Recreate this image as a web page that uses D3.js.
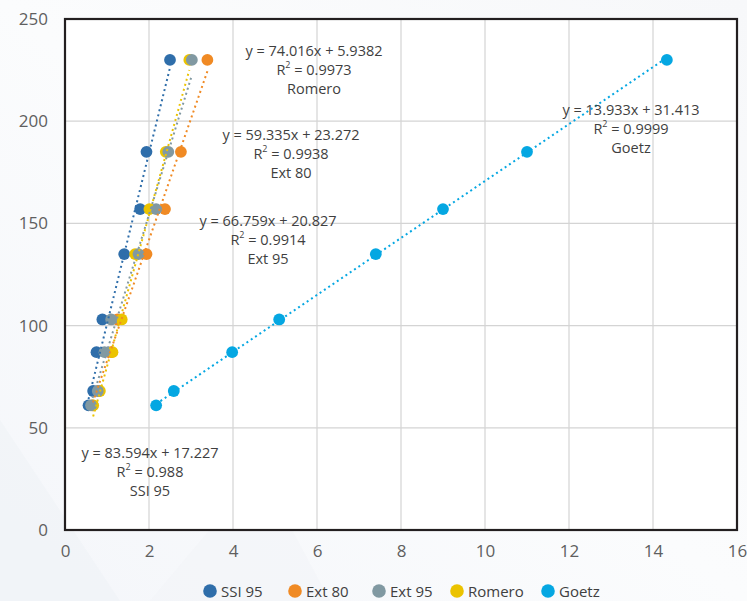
<!DOCTYPE html>
<html>
<head>
<meta charset="utf-8">
<script src="https://cdn.jsdelivr.net/npm/d3@7"></script>
<style>
  html, body { margin: 0; padding: 0; background: #ffffff; }
  svg { display: block; }
</style>
</head>
<body>
<svg id="chart" width="747" height="601"></svg>
<script>
// Measured load levels shared by every series (y axis)
const yValues = [61, 68, 87, 103, 135, 157, 185, 230];

// x readings per series, in the same order as yValues
const ssi95  = [0.56, 0.67, 0.75, 0.89, 1.41, 1.79, 1.94, 2.50];
const ext80  = [0.66, 0.80, 1.10, 1.25, 1.94, 2.38, 2.76, 3.39];
const ext95  = [0.62, 0.78, 0.94, 1.10, 1.75, 2.17, 2.46, 3.02];
const romero = [0.67, 0.83, 1.13, 1.35, 1.67, 2.01, 2.40, 2.96];
const goetz  = [2.17, 2.59, 3.98, 5.10, 7.40, 9.00, 11.00, 14.33];

const seriesNames = ["SSI 95", "Ext 80", "Ext 95", "Romero", "Goetz"];
const seriesColors = ["#2f6eaa", "#f08a24", "#8199a2", "#ebc300", "#05a7e2"];

// Linear trendline fits
const trendSlope     = [83.594, 59.335, 66.759, 74.016, 13.933];
const trendIntercept = [17.227, 23.272, 20.827, 5.9382, 31.413];
const trendR2        = ["0.988", "0.9938", "0.9914", "0.9973", "0.9999"];

const xTicks = [0, 2, 4, 6, 8, 10, 12, 14, 16];
const yTicks = [0, 50, 100, 150, 200, 250];

const seriesX = [ssi95, ext80, ext95, romero, goetz];
const series = seriesNames.map((name, i) => ({
  name,
  color: seriesColors[i],
  slope: trendSlope[i],
  intercept: trendIntercept[i],
  r2: trendR2[i],
  points: seriesX[i].map((x, j) => ({ x, y: yValues[j] }))
}));

const svg = d3.select("#chart");
const W = 747, H = 601;
const plot = { left: 65, right: 737, top: 19, bottom: 530 };

// soft page background
const defs = svg.append("defs");
const bg = defs.append("linearGradient").attr("id", "bg")
  .attr("x1", "0").attr("y1", "1").attr("x2", "1").attr("y2", "0");
bg.append("stop").attr("offset", "0").attr("stop-color", "#f4f6fa");
bg.append("stop").attr("offset", "0.5").attr("stop-color", "#fbfcfd");
bg.append("stop").attr("offset", "1").attr("stop-color", "#f7f8fa");
svg.append("rect").attr("width", W).attr("height", H).attr("fill", "url(#bg)");
svg.append("path").attr("d", "M0,420 L120,601 L0,601 Z").attr("fill", "#eef1f6").attr("opacity", 0.5);
svg.append("path").attr("d", "M150,601 L260,470 L330,601 Z").attr("fill", "#f1f3f7").attr("opacity", 0.5);

const x = d3.scaleLinear().domain([0, 16]).range([plot.left, plot.right]);
const y = d3.scaleLinear().domain([0, 250]).range([plot.bottom, plot.top]);

svg.append("rect")
  .attr("x", plot.left).attr("y", plot.top)
  .attr("width", plot.right - plot.left).attr("height", plot.bottom - plot.top)
  .attr("fill", "#ffffff");

// gridlines
const grid = svg.append("g").attr("stroke", "#d4d4d4").attr("stroke-width", 1.2);
grid.selectAll("line.v").data(xTicks).join("line")
  .attr("x1", d => x(d)).attr("x2", d => x(d))
  .attr("y1", plot.top).attr("y2", plot.bottom);
grid.selectAll("line.h").data(yTicks).join("line")
  .attr("x1", plot.left).attr("x2", plot.right)
  .attr("y1", d => y(d)).attr("y2", d => y(d));

// axes (labels only; the frame is drawn separately)
const tickFont = "'Open Sans', 'Noto Sans', sans-serif";
const xAxis = svg.append("g").attr("transform", `translate(0,${plot.bottom})`)
  .call(d3.axisBottom(x).tickValues(xTicks).tickSize(0).tickPadding(15).tickFormat(d3.format("d")));
const yAxis = svg.append("g").attr("transform", `translate(${plot.left},0)`)
  .call(d3.axisLeft(y).tickValues(yTicks).tickSize(0).tickPadding(17).tickFormat(d3.format("d")));
[xAxis, yAxis].forEach(a => {
  a.select(".domain").remove();
  a.selectAll("text").attr("fill", "#5f5f5f").style("font-family", tickFont).style("font-size", "17px");
});

// markers, drawn so later series sit on top where they overlap
const drawOrder = [0, 1, 3, 2, 4];
const markers = svg.append("g");
drawOrder.forEach(i => {
  const s = series[i];
  markers.append("g").selectAll("circle").data(s.points).join("circle")
    .attr("cx", d => x(d.x)).attr("cy", d => y(d.y)).attr("r", 5.9)
    .attr("fill", s.color);
});

// dotted trendlines over the fitted x range
const trend = svg.append("g");
series.forEach(s => {
  const [x0, x1] = d3.extent(s.points, d => d.x);
  trend.append("line")
    .attr("x1", x(x0)).attr("y1", y(s.slope * x0 + s.intercept))
    .attr("x2", x(x1)).attr("y2", y(s.slope * x1 + s.intercept))
    .attr("stroke", s.color).attr("stroke-width", 2)
    .attr("stroke-dasharray", "2 3.2");
});

// plot frame
svg.append("rect")
  .attr("x", plot.left).attr("y", plot.top)
  .attr("width", plot.right - plot.left).attr("height", plot.bottom - plot.top)
  .attr("fill", "none").attr("stroke", "#231f20").attr("stroke-width", 2.2);

// trendline equation labels
const labelPos = {
  "SSI 95": [150, 452],
  "Ext 80": [291, 134],
  "Ext 95": [268, 220],
  "Romero": [314, 50],
  "Goetz":  [631, 109]
};
const fmt = v => String(v);
const labels = svg.append("g")
  .style("font-family", "'Open Sans', 'Noto Sans', sans-serif")
  .style("font-size", "14.5px").attr("fill", "#3f3f3f").attr("text-anchor", "middle");
series.forEach(s => {
  const [cx, cy] = labelPos[s.name];
  const t = labels.append("text").attr("x", cx).attr("y", cy).attr("dominant-baseline", "central");
  t.append("tspan").attr("x", cx).attr("dy", 0)
    .text(`y = ${fmt(s.slope)}x + ${fmt(s.intercept)}`);
  const r = t.append("tspan").attr("x", cx).attr("dy", 19);
  r.append("tspan").text("R");
  r.append("tspan").attr("font-size", "9px").attr("dy", -5).text("2");
  r.append("tspan").attr("dy", 5).text(` = ${s.r2}`);
  t.append("tspan").attr("x", cx).attr("dy", 19).text(s.name);
});

// legend
const legendX = [210, 295, 379, 457, 548];
const legend = svg.append("g")
  .style("font-family", "'Open Sans', 'Noto Sans', sans-serif")
  .style("font-size", "15px").attr("fill", "#404040");
series.forEach((s, i) => {
  const g = legend.append("g").attr("transform", `translate(${legendX[i]},591)`);
  g.append("circle").attr("r", 6.8).attr("fill", s.color);
  g.append("text").attr("x", 11).attr("dominant-baseline", "central").text(s.name);
});
</script>
</body>
</html>
